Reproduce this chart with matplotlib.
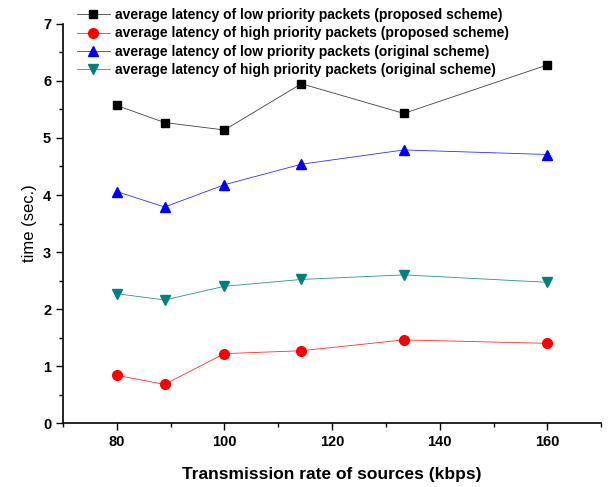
import matplotlib.pyplot as plt
from matplotlib.ticker import MultipleLocator

plt.rcParams['font.family'] = ['Liberation Sans', 'DejaVu Sans']

rate = [80, 88.89, 100, 114.29, 133.33, 160]
low_proposed = [5.57, 5.27, 5.14, 5.95, 5.43, 6.28]
high_proposed = [0.84, 0.68, 1.22, 1.27, 1.46, 1.40]
low_original = [4.06, 3.79, 4.18, 4.54, 4.79, 4.71]
high_original = [2.27, 2.16, 2.40, 2.52, 2.60, 2.47]

labels = ['average latency of low priority packets (proposed scheme)',
          'average latency of high priority packets (proposed scheme)',
          'average latency of low priority packets (original scheme)',
          'average latency of high priority packets (original scheme)']

fig = plt.figure(figsize=(6.11, 4.87), dpi=100)
ax = fig.add_axes([0.103, 0.131, 0.881, 0.820])

ax.plot(rate, low_proposed, color='#404040', lw=0.6, marker='s', ms=6,
        mfc='black', mec='black', label=labels[0])
ax.plot(rate, high_proposed, color='#ff3030', lw=0.6, marker='o', ms=7,
        mfc='red', mec='red', label=labels[1])
ax.plot(rate, low_original, color='#3030ff', lw=0.6, marker='^', ms=7.5,
        mfc='blue', mec='blue', label=labels[2])
ax.plot(rate, high_original, color='#309090', lw=0.6, marker='v', ms=7.5,
        mfc='#008080', mec='#008080', label=labels[3])

ax.set_xlim(70, 170)
ax.set_ylim(0, 7)
ax.xaxis.set_major_locator(MultipleLocator(20))
ax.xaxis.set_minor_locator(MultipleLocator(10))
ax.yaxis.set_major_locator(MultipleLocator(1))
ax.yaxis.set_minor_locator(MultipleLocator(0.5))
ax.tick_params(which='major', direction='out', length=5, width=1)
ax.tick_params(which='minor', direction='out', length=3, width=1)
ax.tick_params(labelsize=10.5)
for t in ax.get_xticklabels() + ax.get_yticklabels():
    t.set_fontweight('bold')

ax.spines['top'].set_visible(False)
ax.spines['right'].set_visible(False)
ax.spines['left'].set_linewidth(1.2)
ax.spines['bottom'].set_linewidth(1.2)

ax.set_xlabel('Transmission rate of sources (kbps)', fontsize=12.5,
              fontweight='bold', labelpad=13)
ax.set_ylabel('time (sec.)', fontsize=12, labelpad=4)

ax.legend(loc='upper left', bbox_to_anchor=(0.01, 1.06), frameon=False,
          prop={'weight': 'bold', 'size': 10}, handlelength=2.4,
          labelspacing=0.3, borderaxespad=0.2, handletextpad=0.35)

fig.savefig('out.png', dpi=100)
